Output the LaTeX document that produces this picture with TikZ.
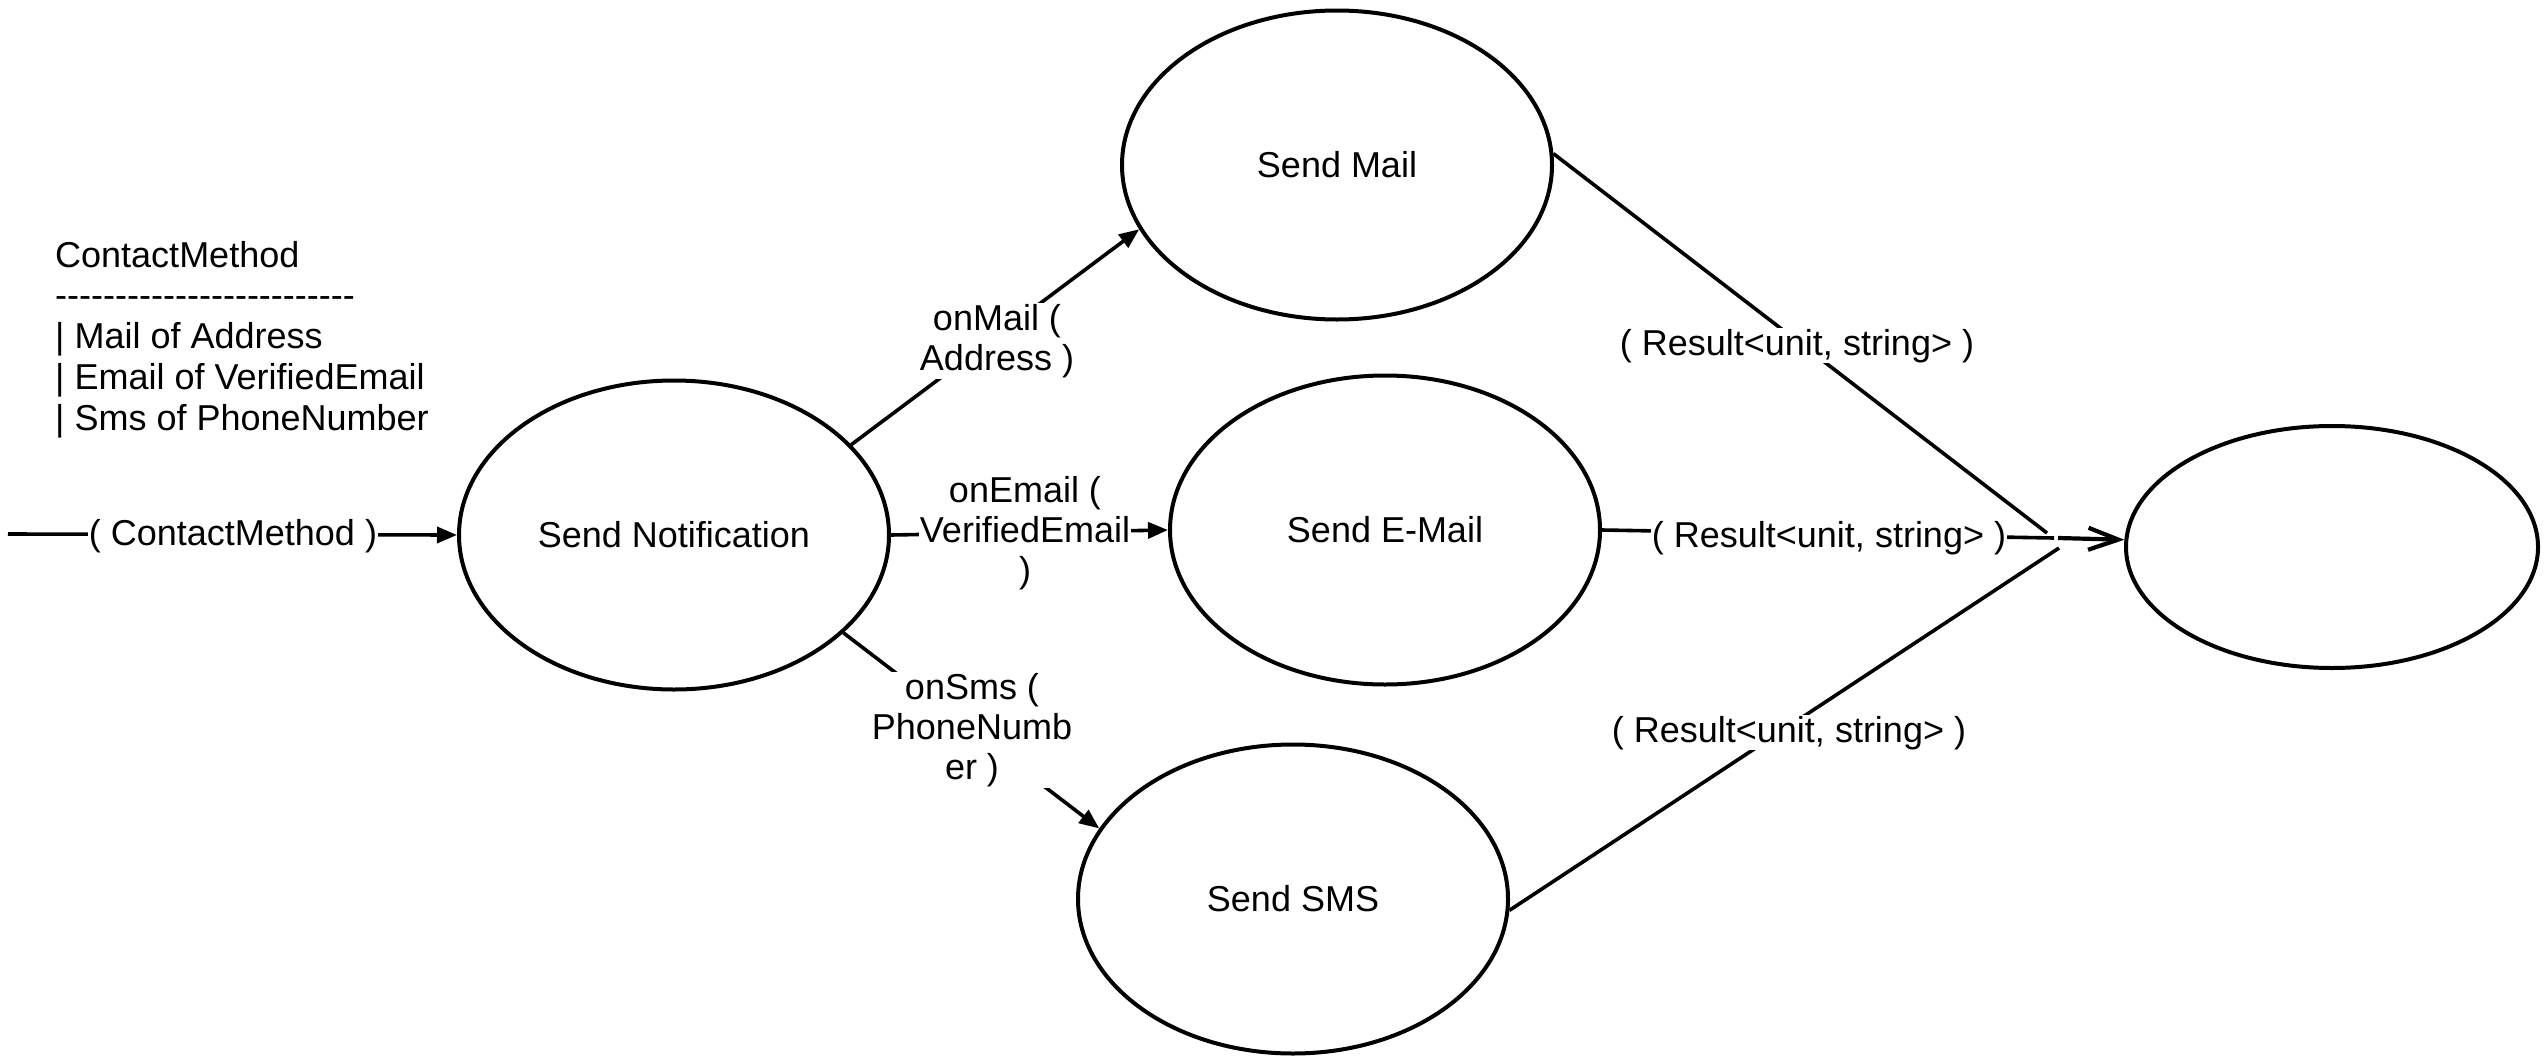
\documentclass[tikz,border=0pt]{standalone}
\usepackage{fontspec}
\setmainfont{Liberation Sans}
\usetikzlibrary{shapes.geometric,arrows.meta}
\ExplSyntaxOn
\NewDocumentCommand\dashrun{m}{\prg_replicate:nn{#1}{-\kern0pt}}
\ExplSyntaxOff
\begin{document}
\begin{tikzpicture}[x=1pt,y=-1pt,
  every node/.style={font=\fontsize{36}{40}\selectfont},
  state/.style={ellipse, draw, line width=4pt, inner sep=0pt, minimum width=430pt, minimum height=309pt},
  conn/.style={line width=3.6pt},
  flow/.style={conn, -{Triangle[length=20pt,width=16pt]}},
  lbl/.style={fill=white, inner sep=1pt, align=center},
]
\useasboundingbox (0,0) rectangle (2548,1063);

% states
\node[state] (notif) at (674,535) {Send Notification};
\node[state] (mail) at (1337,165) {Send Mail};
\node[state] (email) at (1385,530) {Send E-Mail};
\node[state] (sms) at (1293,899) {Send SMS};
\node[state, minimum width=412pt, minimum height=242pt] (final) at (2332,547) {};

% legend
\node[anchor=north west, inner sep=0pt, align=left, font=\fontsize{36}{40.7}\selectfont] (legend) at (55,241)
  {ContactMethod\\ \dashrun{25}\\ | Mail of Address\\ | Email of VerifiedEmail\\ | Sms of PhoneNumber};

% free ends
\coordinate (in0) at (8,534);
\coordinate (j1) at (2047,533);
\coordinate (j2) at (2054,538);
\coordinate (j3) at (2059,548);
\coordinate (j0) at (2058,538);

% connectors
\draw[flow] (in0) -- (notif.west);
\draw[flow] (notif.27) -- (mail.198);
\draw[flow] (notif.east) -- (email.west);
\draw[flow] (notif.-30) -- (sms.160);
\draw[conn] (mail.3) -- (j1);
\draw[conn] (email.east) -- (j2);
\draw[conn] (sms.-3) -- (j3);
\draw[line width=4.2pt, -{Straight Barb[length=30pt,width=22pt]}] (j0) -- (final.178);

% labels
\node[lbl, anchor=base] (lin) at (233,545) {( ContactMethod )};
\node[lbl] (lmail) at (997,341) {onMail (\\Address )};
\node[lbl] (lemail) at (1025,533) {onEmail (\\VerifiedEmail\\)};
\node[lbl] (lsms) at (972,730) {onSms (\\PhoneNumb\\er )};
\node[lbl, anchor=base] (lr1) at (1797,355) {( Result<unit, string> )};
\node[lbl, anchor=base] (lr2) at (1829,547) {( Result<unit, string> )};
\node[lbl, anchor=base] (lr3) at (1789,742) {( Result<unit, string> )};
\end{tikzpicture}
\end{document}
